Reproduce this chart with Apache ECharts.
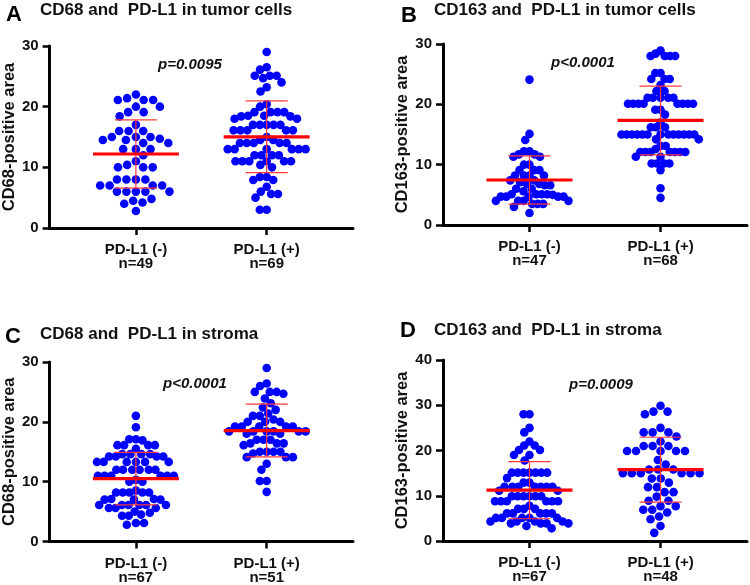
<!DOCTYPE html>
<html>
<head>
<meta charset="utf-8">
<script src="https://cdn.jsdelivr.net/npm/echarts@6.0.0/dist/echarts.min.js"></script>
<style>
html,body{margin:0;padding:0;background:#fff;}
#chart{width:750px;height:585px;}
</style>
</head>
<body>
<div id="chart"></div>
<script>
// ---------------- DATA ----------------
const categories = ['PD-L1 (-)', 'PD-L1 (+)'];
const panelLetters = ['A', 'B', 'C', 'D'];
const panelTitles = ['CD68 and  PD-L1 in tumor cells', 'CD163 and  PD-L1 in tumor cells', 'CD68 and  PD-L1 in stroma', 'CD163 and  PD-L1 in stroma'];
const yAxisNames = ['CD68-positive area', 'CD163-positive area', 'CD68-positive area', 'CD163-positive area'];
const pValues = ['p=0.0095', 'p<0.0001', 'p<0.0001', 'p=0.0009'];
const yMaxes = [30, 30, 30, 40];
const yInterval = 10;

const tumorCD68Neg = [22, 21.4, 21.1, 21.1, 21.1, 20, 20, 19.1, 19.1, 18.4, 17, 16, 16, 16, 15, 15, 15, 14.7, 14.5, 14.5, 14, 14, 13, 13, 13, 12, 11, 10.4, 10, 10, 10, 8, 8, 8, 8, 7, 7, 7, 7, 6, 6, 6, 6, 6, 4.8, 4.5, 4.2, 4, 2.8];
const tumorCD68Pos = [29, 26.5, 26.1, 25.1, 25.1, 25.1, 24.7, 24, 23.2, 22.5, 20.4, 20, 19.1, 19.1, 19.1, 19.1, 18.5, 18.5, 18.4, 18.4, 18, 18, 17, 17, 17, 17, 17, 16.1, 16.1, 16.1, 16.1, 16.1, 15, 14.5, 14.5, 14, 14, 14, 14, 14, 13, 13, 13, 13, 13, 13, 12, 12, 12, 12, 11, 11, 11, 11, 11, 11, 10.4, 10, 8.4, 8.4, 7.9, 7.9, 6.8, 6, 5.6, 5.6, 5, 3, 3];
const tumorCD163Neg = [24.1, 15.1, 14.1, 12.2, 12.2, 11.7, 11.7, 11.3, 11.3, 10, 10, 9.1, 9.1, 9.1, 8.2, 8.2, 8.2, 8.2, 7.4, 7.4, 7.1, 6.8, 6.8, 6.6, 6.6, 6, 6, 5.6, 5.1, 5.1, 5.1, 5.1, 5, 4.7, 4.7, 4.7, 4.7, 4.7, 4, 4, 4, 4, 3.5, 3.5, 3.5, 3, 2];
const tumorCD163Pos = [28.9, 28.4, 28, 28, 28, 28, 25.2, 25.2, 24.2, 24.2, 24.2, 23.2, 22.2, 22.2, 21.1, 21.1, 21.1, 21.1, 21.1, 20.1, 20.1, 20.1, 20.1, 20.1, 20.1, 20.1, 20.1, 19.1, 19.1, 18.3, 17, 16.2, 16.2, 16.2, 15, 15, 15, 15, 15, 15, 15, 15, 15, 15, 15, 15, 15, 14.2, 14.2, 13.1, 13.1, 12.6, 12.1, 12.1, 12.1, 12.1, 12.1, 12.1, 12.1, 11.3, 11.3, 10.2, 10.2, 10.2, 10.2, 9.1, 6.1, 4.5];
const stromaCD68Neg = [21, 19.1, 17.1, 17.1, 16.9, 16.1, 16.1, 16.1, 16.1, 15.5, 14.6, 14.6, 14.6, 14.6, 14.2, 14.2, 14.2, 14.2, 13.3, 13.3, 13.3, 13.3, 13.3, 13.3, 12, 12, 12, 12, 12, 12, 11, 11, 11, 11, 11, 11, 10.3, 10, 10, 8.5, 8.2, 8.2, 8.2, 8.2, 8.2, 7.1, 7.1, 7, 7, 7, 6.1, 6.1, 6.1, 6.1, 6.1, 6.1, 5.6, 5.6, 5.6, 5, 4.8, 4.5, 4.3, 4.3, 3.1, 3.1, 2.8];
const stromaCD68Pos = [29, 26.4, 26, 25, 25, 25, 24.7, 23.9, 23.1, 22.4, 22, 21.4, 21, 21, 20.4, 20, 20, 20, 19.2, 19.2, 19.2, 19.2, 19.2, 18.4, 18.4, 18.4, 18.4, 18.4, 18.4, 18, 18, 17, 17, 17, 16.4, 16.4, 16.4, 16.1, 15, 15, 15, 15, 14.7, 14.1, 14.1, 14.1, 13, 12, 10.1, 10.1, 8.3];
const stromaCD163Neg = [28, 28, 25, 24, 22, 21.1, 21.1, 20.1, 20.1, 19, 19, 17.8, 15.1, 15.1, 15.1, 15.1, 15.1, 15.1, 15.1, 13.9, 12.9, 12.9, 12, 12, 12, 12, 12, 12, 12, 11.1, 11.1, 9.9, 9.9, 9.9, 9.9, 9.9, 9.9, 8.8, 8.8, 8.8, 8.8, 8.8, 8.8, 7.8, 7.1, 7.1, 7.1, 6.1, 6.1, 6.1, 6.1, 6.1, 5.1, 5.1, 5.1, 5.1, 5.1, 4.3, 4.3, 4.3, 4.3, 3.9, 3.9, 3.9, 3.9, 3.3, 2.8];
const stromaCD163Pos = [29.9, 28.6, 28.6, 28, 25, 24, 24, 24, 23.1, 22, 21, 21, 21, 19.9, 19.9, 19.9, 19.9, 19.9, 17.9, 16.9, 15.8, 15.8, 15.8, 15, 15, 15, 15, 15, 15, 13.8, 13.8, 12.9, 11.9, 11.9, 10.8, 10.8, 9.8, 8.9, 8.9, 7.7, 7.7, 6.9, 6.9, 6.3, 5.4, 4.8, 3.3, 1.8];

const panelGroups = [
  [tumorCD68Neg, tumorCD68Pos],
  [tumorCD163Neg, tumorCD163Pos],
  [stromaCD68Neg, stromaCD68Pos],
  [stromaCD163Neg, stromaCD163Pos]
];

// ---------------- LAYOUT ----------------
const FONT = "'Liberation Sans', Arial, Helvetica, sans-serif";
const XMIN = 0.34, XMAX = 2.66;
const grids = [
  {left: 49, top: 46, width: 304, height: 182},
  {left: 443, top: 44, width: 304, height: 181},
  {left: 49, top: 362, width: 304, height: 182},
  {left: 443, top: 360, width: 304, height: 181}
];
const letterPos = [[14, 15], [409, 16], [13, 337], [408, 331]];
const titlePos = [[40, 10], [434, 10], [40, 334], [434, 330]];
const pPos = [[190, 65], [583, 63], [195, 384], [601, 385]];
const DOT = 8.6;      // symbol diameter (px)
const SPACING = 9.5;  // min center distance in swarm (px)
const MAX_HALF = 39;  // max half-width of a swarm (px)

function mean(a) { return a.reduce((s, v) => s + v, 0) / a.length; }
function sd(a) { const m = mean(a); return Math.sqrt(a.reduce((s, v) => s + (v - m) * (v - m), 0) / (a.length - 1)); }

// beeswarm layout: horizontal offsets in px computed from the values
function swarm(values, pxPerUnit, d, maxHalf) {
  const pts = values.map(v => ({v: v, y: v * pxPerUnit, x: 0})).sort((a, b) => b.v - a.v);
  const placed = [];
  pts.forEach(p => {
    const near = placed.filter(q => Math.abs(q.y - p.y) < d);
    const cands = [0];
    near.forEach(q => {
      const dx = Math.sqrt(d * d - (q.y - p.y) * (q.y - p.y));
      cands.push(q.x + dx, q.x - dx);
    });
    cands.sort((a, b) => Math.abs(a) - Math.abs(b) || a - b);
    for (const c of cands) {
      if (near.every(q => (q.x - c) * (q.x - c) + (q.y - p.y) * (q.y - p.y) >= d * d - 1e-6)) { p.x = c; break; }
    }
    placed.push(p);
  });
  const m = Math.max.apply(null, placed.map(p => Math.abs(p.x)));
  if (m > maxHalf) { const k = maxHalf / m; placed.forEach(p => { p.x *= k; }); }
  return placed;
}

const option = {
  backgroundColor: '#ffffff',
  animation: false,
  grid: grids.map(g => Object.assign({containLabel: false}, g)),
  xAxis: [],
  yAxis: [],
  series: [],
  graphic: []
};

panelGroups.forEach((groups, pi) => {
  const g = grids[pi];
  const pxX = g.width / (XMAX - XMIN);
  const pxY = g.height / yMaxes[pi];
  option.xAxis.push({
    type: 'value', gridIndex: pi, min: XMIN, max: XMAX,
    splitLine: {show: false},
    axisLine: {show: true, onZero: false, lineStyle: {color: '#000', width: 3}},
    axisTick: {show: true, customValues: [1, 2], length: 7, lineStyle: {color: '#000', width: 2.5}},
    axisLabel: {
      show: true, customValues: [1, 2], margin: 15,
      color: '#111', fontFamily: FONT, fontWeight: 'bold', fontSize: 15, lineHeight: 14,
      formatter: v => categories[Math.round(v) - 1] + '\nn=' + groups[Math.round(v) - 1].length
    }
  });
  option.yAxis.push({
    type: 'value', gridIndex: pi, min: 0, max: yMaxes[pi], interval: yInterval,
    name: yAxisNames[pi], nameLocation: 'middle', nameGap: 27,
    nameTextStyle: {color: '#111', fontFamily: FONT, fontWeight: 'bold', fontSize: 16.5},
    splitLine: {show: false},
    axisLine: {show: true, lineStyle: {color: '#000', width: 3}},
    axisTick: {show: true, length: 7, lineStyle: {color: '#000', width: 2.5}},
    axisLabel: {margin: 11, color: '#111', fontFamily: FONT, fontWeight: 'bold', fontSize: 15}
  });
  groups.forEach((vals, gi) => {
    const center = gi + 1;
    const pts = swarm(vals, pxY, SPACING, MAX_HALF);
    option.series.push({
      type: 'scatter', xAxisIndex: pi, yAxisIndex: pi,
      symbol: 'circle', symbolSize: DOT,
      itemStyle: {color: '#0000ff', opacity: 1},
      z: 2,
      data: pts.map(p => [center + p.x / pxX, p.v])
    });
  });
  option.series.push({
    type: 'custom', xAxisIndex: pi, yAxisIndex: pi, z: 5,
    data: groups.map((vals, gi) => [gi + 1, mean(vals), sd(vals)]),
    encode: {x: 0, y: 1},
    renderItem: function (params, api) {
      const x = api.value(0), m = api.value(1), s = api.value(2);
      const c = api.coord([x, m]);
      const t = api.coord([x, m + s]);
      const b = api.coord([x, m - s]);
      const thin = {stroke: '#ff3838', lineWidth: 1.2};
      return {
        type: 'group',
        children: [
          {type: 'line', shape: {x1: c[0], y1: t[1], x2: c[0], y2: b[1]}, style: thin},
          {type: 'line', shape: {x1: c[0] - 21, y1: t[1], x2: c[0] + 21, y2: t[1]}, style: thin},
          {type: 'line', shape: {x1: c[0] - 21, y1: b[1], x2: c[0] + 21, y2: b[1]}, style: thin},
          {type: 'line', shape: {x1: c[0] - 43, y1: c[1], x2: c[0] + 43, y2: c[1]}, style: {stroke: '#ff0000', lineWidth: 3.2}}
        ]
      };
    }
  });
});

panelLetters.forEach((L, pi) => {
  option.graphic.push({type: 'text', x: letterPos[pi][0], y: letterPos[pi][1], z: 10,
    style: {text: L, fill: '#000', font: 'bold 22px ' + FONT, align: 'center', verticalAlign: 'middle'}});
  option.graphic.push({type: 'text', x: titlePos[pi][0], y: titlePos[pi][1], z: 10,
    style: {text: panelTitles[pi], fill: '#111', font: 'bold 17px ' + FONT, align: 'left', verticalAlign: 'middle'}});
  option.graphic.push({type: 'text', x: pPos[pi][0], y: pPos[pi][1], z: 10,
    style: {text: pValues[pi], fill: '#111', font: 'italic bold 15px ' + FONT, align: 'center', verticalAlign: 'middle'}});
});

const chart = echarts.init(document.getElementById('chart'), null, {renderer: 'canvas'});
chart.setOption(option);
</script>
</body>
</html>
